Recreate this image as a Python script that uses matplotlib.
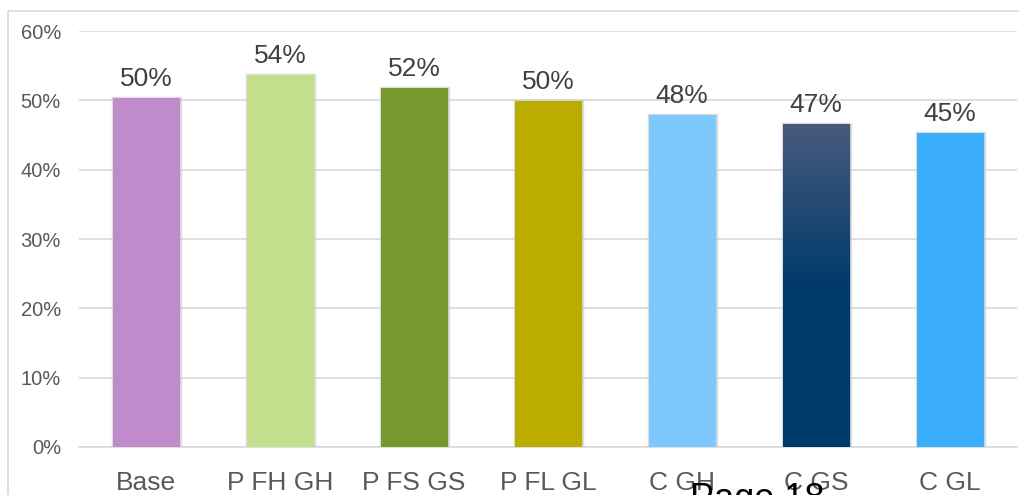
import matplotlib
matplotlib.use("Agg")
import matplotlib.pyplot as plt
import matplotlib.patheffects as pe
from matplotlib.colors import LinearSegmentedColormap
from matplotlib.patches import Rectangle
import numpy as np

categories = ["Base", "P FH GH", "P FS GS", "P FL GL", "C GH", "C GS", "C GL"]
values = [0.504, 0.537, 0.518, 0.499, 0.479, 0.466, 0.453]
bar_colors = ["#c08bca", "#c3df8c", "#76992d", "#bbac00", "#7ec8fe", "#003a6b", "#3aadfd"]
ytick_vals = [0.0, 0.1, 0.2, 0.3, 0.4, 0.5, 0.6]

plt.rcParams["font.family"] = ["Liberation Sans", "DejaVu Sans"]
W, H = 1019, 495
fig = plt.figure(figsize=(W / 100, H / 100), dpi=100)

# chart frame
fig.patches.append(Rectangle((8 / W, -0.1), 1.2, 1 - 11 / H + 0.1, transform=fig.transFigure,
                             fill=False, edgecolor="#d9d9d9", linewidth=1.2))

ax = fig.add_axes([79 / W, 1 - 447 / H, (1017 - 79) / W, (447 - 31) / H])
x = np.arange(len(categories))
bars = ax.bar(x, values, width=0.5, color=bar_colors, zorder=3,
              path_effects=[pe.withStroke(linewidth=2.5, foreground="#c8c8c8", alpha=0.6), pe.Normal()])

# vertical gradient fill on the C GS bar
grad_cmap = LinearSegmentedColormap.from_list("cgs", [(0, "#003a6b"), (0.5, "#003a6b"), (1.0, "#475b7c")])
b = bars[5]
bx, bw, bh = b.get_x(), b.get_width(), b.get_height()
img = ax.imshow(np.linspace(0, 1, 256).reshape(-1, 1), cmap=grad_cmap, origin="lower",
                extent=[bx, bx + bw, 0, bh], aspect="auto", zorder=4)
img.set_clip_path(b)

ax.set_xlim(-0.5, len(categories) - 0.5)
ax.set_ylim(0, 0.6)
ax.set_yticks(ytick_vals)
ax.set_yticklabels([f"{int(round(v * 100))}%" for v in ytick_vals])
ax.set_xticks(x)
ax.set_xticklabels(categories)
ax.tick_params(axis="y", length=0, pad=13, labelsize=14.5, labelcolor="#595959")
ax.tick_params(axis="x", length=0, pad=17, labelsize=19, labelcolor="#595959")
ax.grid(axis="y", color="#d9d9d9", linewidth=1.2, zorder=0)
ax.set_axisbelow(True)
for s in ["top", "right", "left"]:
    ax.spines[s].set_visible(False)
ax.spines["bottom"].set_color("#d9d9d9")
ax.spines["bottom"].set_linewidth(1.2)

for xi, v in zip(x, values):
    ax.annotate(f"{round(v * 100):.0f}%", (xi, v), xytext=(0, 5), textcoords="offset points",
                ha="center", va="bottom", fontsize=19, color="#404040", zorder=5)

fig.text(690 / W, 1 - 509 / H, "Page 18", fontsize=26, color="black", ha="left", va="baseline")

fig.savefig("out.png", dpi=100)
